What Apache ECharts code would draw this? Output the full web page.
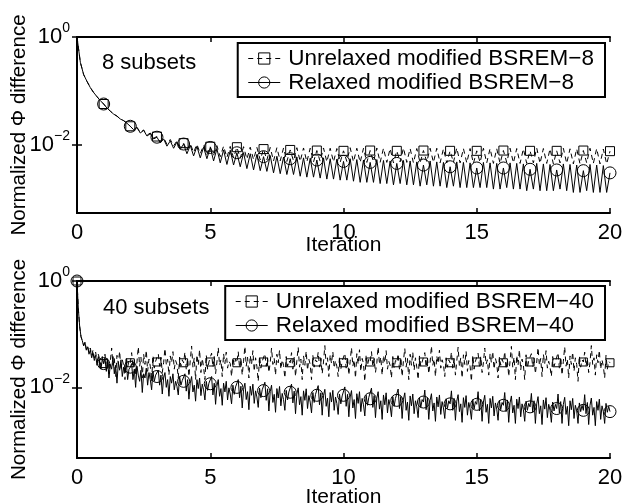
<!DOCTYPE html>
<html>
<head>
<meta charset="utf-8">
<script src="https://cdn.jsdelivr.net/npm/echarts@6/dist/echarts.min.js"></script>
<style>
html, body { margin: 0; padding: 0; background: #fff; }
#chart { width: 623px; height: 503px; }
</style>
</head>
<body>
<div id="chart"></div>
<script>
// samples per iteration: every sub-iteration for 8 subsets, every 2nd for 40 subsets
const steps8 = 8;
const steps40 = 20;
const xTicks = [0, 5, 10, 15, 20];
const yTicks = [0.01, 1];

const names8 = ['Unrelaxed modified BSREM\u22128', 'Relaxed modified BSREM\u22128'];
const names40 = ['Unrelaxed modified BSREM\u221240', 'Relaxed modified BSREM\u221240'];

// 8 subsets
const unrelaxed8 = [1.0,
  0.34, 0.2, 0.15, 0.115, 0.093, 0.078, 0.066, 0.057,
  0.048, 0.042, 0.037, 0.034, 0.030, 0.028, 0.025, 0.022,
  0.019, 0.021, 0.0168, 0.0188, 0.015, 0.0165, 0.0132, 0.0142,
  0.0115, 0.0135, 0.0102, 0.0125, 0.0095, 0.0118, 0.009, 0.0107,
  0.0078, 0.0105, 0.0072, 0.0102, 0.0068, 0.0098, 0.0066, 0.0092,
  0.0064, 0.0096, 0.0060, 0.0094, 0.0058, 0.0093, 0.0057, 0.0090,
  0.0056, 0.0092, 0.0054, 0.0090, 0.0053, 0.0089, 0.0052, 0.0083,
  0.0052, 0.0089, 0.0050, 0.0088, 0.0050, 0.0087, 0.0049, 0.0080,
  0.0050, 0.0088, 0.0049, 0.0087, 0.0048, 0.0086, 0.0048, 0.0078,
  0.0049, 0.0087, 0.0048, 0.0086, 0.0048, 0.0085, 0.0047, 0.0077,
  0.0049, 0.0088, 0.0048, 0.0086, 0.0047, 0.0086, 0.0047, 0.0078,
  0.0048, 0.0087, 0.0047, 0.0086, 0.0047, 0.0085, 0.0046, 0.0077,
  0.0048, 0.0087, 0.0047, 0.0085, 0.0046, 0.0085, 0.0046, 0.0078,
  0.0048, 0.0086, 0.0047, 0.0086, 0.0046, 0.0084, 0.0046, 0.0077,
  0.0047, 0.0087, 0.0046, 0.0085, 0.0046, 0.0085, 0.0045, 0.0077,
  0.0047, 0.0086, 0.0046, 0.0085, 0.0045, 0.0084, 0.0045, 0.0078,
  0.0047, 0.0086, 0.0046, 0.0085, 0.0045, 0.0084, 0.0045, 0.0077,
  0.0046, 0.0087, 0.0045, 0.0085, 0.0045, 0.0084, 0.0044, 0.0077,
  0.0046, 0.0086, 0.0045, 0.0084, 0.0044, 0.0084, 0.0044, 0.0078,
  0.0046, 0.0086, 0.0045, 0.0085, 0.0044, 0.0083, 0.0044, 0.0076
];
const relaxed8 = [1.0,
  0.34, 0.2, 0.15, 0.115, 0.093, 0.078, 0.066, 0.057,
  0.048, 0.042, 0.037, 0.034, 0.030, 0.028, 0.025, 0.022,
  0.019, 0.021, 0.0165, 0.0185, 0.0145, 0.016, 0.0128, 0.0138,
  0.0108, 0.0128, 0.0094, 0.0118, 0.0086, 0.0112, 0.0082, 0.0103,
  0.0068, 0.0097, 0.0062, 0.0093, 0.0057, 0.0090, 0.0055, 0.0089,
  0.0050, 0.0084, 0.0046, 0.0080, 0.0043, 0.0079, 0.0042, 0.0071,
  0.0039, 0.0071, 0.0036, 0.0068, 0.0034, 0.0066, 0.0033, 0.0060,
  0.0032, 0.0063, 0.0030, 0.0061, 0.0029, 0.0059, 0.0028, 0.0055,
  0.0028, 0.0059, 0.0026, 0.0057, 0.0025, 0.0056, 0.0025, 0.0052,
  0.0024, 0.0057, 0.0023, 0.0055, 0.0023, 0.0054, 0.0022, 0.0049,
  0.0022, 0.0055, 0.0021, 0.0053, 0.0020, 0.0052, 0.0020, 0.0047,
  0.0020, 0.0053, 0.0019, 0.0051, 0.0019, 0.0050, 0.0018, 0.0045,
  0.0019, 0.0051, 0.0018, 0.0050, 0.0018, 0.0048, 0.0017, 0.0042,
  0.0018, 0.0050, 0.0017, 0.0048, 0.0017, 0.0047, 0.0016, 0.0039,
  0.0017, 0.0048, 0.0016, 0.0047, 0.0016, 0.0046, 0.0016, 0.0037,
  0.0016, 0.0047, 0.0016, 0.0046, 0.0015, 0.0045, 0.0015, 0.0037,
  0.0016, 0.0046, 0.0015, 0.0045, 0.0015, 0.0044, 0.0014, 0.0035,
  0.0015, 0.0045, 0.0014, 0.0044, 0.0014, 0.0043, 0.0014, 0.0034,
  0.0015, 0.0044, 0.0014, 0.0043, 0.0013, 0.0042, 0.0013, 0.0033,
  0.0014, 0.0043, 0.0013, 0.0042, 0.0013, 0.0041, 0.0013, 0.0030
];

// 40 subsets
const unrelaxed40 = [1.0,
  0.3, 0.14, 0.09, 0.075, 0.062, 0.072, 0.052, 0.06, 0.045, 0.055, 0.04, 0.05, 0.036, 0.046, 0.03, 0.042, 0.034, 0.026, 0.038, 0.028,
  0.042, 0.024, 0.036, 0.018, 0.031, 0.055, 0.026, 0.035, 0.016, 0.04, 0.028, 0.048, 0.021, 0.033, 0.026, 0.014, 0.038, 0.024, 0.032, 0.029,
  0.045, 0.023, 0.034, 0.017, 0.03, 0.058, 0.025, 0.037, 0.015, 0.042, 0.027, 0.05, 0.02, 0.034, 0.025, 0.013, 0.04, 0.023, 0.031, 0.030,
  0.043, 0.025, 0.037, 0.019, 0.029, 0.054, 0.027, 0.034, 0.017, 0.039, 0.029, 0.047, 0.022, 0.032, 0.027, 0.015, 0.037, 0.025, 0.033, 0.029,
  0.046, 0.022, 0.035, 0.016, 0.032, 0.06, 0.024, 0.036, 0.014, 0.041, 0.026, 0.051, 0.019, 0.035, 0.024, 0.014, 0.041, 0.022, 0.03, 0.030,
  0.044, 0.024, 0.038, 0.018, 0.03, 0.056, 0.026, 0.033, 0.016, 0.043, 0.028, 0.046, 0.023, 0.031, 0.028, 0.016, 0.036, 0.026, 0.034, 0.029,
  0.047, 0.023, 0.034, 0.017, 0.031, 0.059, 0.025, 0.037, 0.015, 0.04, 0.027, 0.049, 0.02, 0.036, 0.025, 0.013, 0.039, 0.023, 0.031, 0.030,
  0.043, 0.025, 0.036, 0.019, 0.029, 0.055, 0.027, 0.035, 0.017, 0.042, 0.029, 0.05, 0.022, 0.033, 0.026, 0.015, 0.038, 0.025, 0.032, 0.029,
  0.045, 0.022, 0.037, 0.016, 0.032, 0.057, 0.024, 0.034, 0.014, 0.039, 0.026, 0.048, 0.021, 0.034, 0.027, 0.014, 0.04, 0.024, 0.033, 0.030,
  0.046, 0.024, 0.035, 0.018, 0.03, 0.061, 0.026, 0.036, 0.016, 0.041, 0.028, 0.047, 0.023, 0.032, 0.025, 0.016, 0.037, 0.022, 0.031, 0.029,
  0.044, 0.023, 0.038, 0.017, 0.031, 0.056, 0.025, 0.033, 0.015, 0.043, 0.027, 0.051, 0.02, 0.035, 0.028, 0.013, 0.041, 0.026, 0.034, 0.030,
  0.047, 0.025, 0.034, 0.019, 0.029, 0.058, 0.027, 0.037, 0.017, 0.04, 0.029, 0.049, 0.022, 0.031, 0.026, 0.015, 0.038, 0.023, 0.032, 0.029,
  0.043, 0.022, 0.036, 0.016, 0.032, 0.054, 0.024, 0.035, 0.014, 0.042, 0.026, 0.046, 0.021, 0.036, 0.024, 0.014, 0.039, 0.025, 0.03, 0.030,
  0.045, 0.024, 0.037, 0.018, 0.03, 0.06, 0.026, 0.034, 0.016, 0.039, 0.028, 0.05, 0.023, 0.033, 0.027, 0.016, 0.036, 0.024, 0.033, 0.029,
  0.046, 0.023, 0.035, 0.017, 0.031, 0.057, 0.025, 0.036, 0.015, 0.041, 0.027, 0.048, 0.02, 0.032, 0.025, 0.013, 0.04, 0.022, 0.031, 0.030,
  0.044, 0.025, 0.038, 0.019, 0.029, 0.055, 0.027, 0.033, 0.017, 0.043, 0.029, 0.047, 0.022, 0.035, 0.028, 0.015, 0.037, 0.026, 0.034, 0.029,
  0.047, 0.022, 0.034, 0.016, 0.032, 0.059, 0.024, 0.037, 0.014, 0.04, 0.026, 0.051, 0.021, 0.034, 0.026, 0.014, 0.041, 0.023, 0.032, 0.030,
  0.043, 0.024, 0.036, 0.018, 0.03, 0.056, 0.026, 0.035, 0.016, 0.042, 0.028, 0.049, 0.023, 0.031, 0.024, 0.016, 0.038, 0.025, 0.03, 0.029,
  0.045, 0.023, 0.037, 0.017, 0.031, 0.058, 0.025, 0.034, 0.015, 0.039, 0.027, 0.046, 0.02, 0.036, 0.027, 0.013, 0.039, 0.024, 0.033, 0.030,
  0.046, 0.025, 0.035, 0.019, 0.029, 0.061, 0.027, 0.036, 0.017, 0.041, 0.029, 0.05, 0.022, 0.033, 0.025, 0.015, 0.04, 0.022, 0.031, 0.029
];
const relaxed40 = [1.0,
  0.3, 0.14, 0.09, 0.075, 0.06, 0.07, 0.05, 0.058, 0.042, 0.05, 0.036, 0.045, 0.032, 0.04, 0.026, 0.038, 0.03, 0.022, 0.034, 0.028,
  0.036, 0.02, 0.031, 0.015, 0.027, 0.022, 0.038, 0.018, 0.026, 0.012, 0.029, 0.021, 0.033, 0.016, 0.024, 0.019, 0.03, 0.014, 0.022, 0.024,
  0.028, 0.014, 0.022, 0.01, 0.025, 0.017, 0.013, 0.021, 0.008, 0.018, 0.015, 0.023, 0.011, 0.019, 0.014, 0.009, 0.02, 0.013, 0.017, 0.016,
  0.021, 0.011, 0.017, 0.0075, 0.015, 0.019, 0.01, 0.014, 0.0068, 0.016, 0.012, 0.018, 0.009, 0.013, 0.0105, 0.0072, 0.016, 0.011, 0.0135, 0.013,
  0.018, 0.0085, 0.014, 0.006, 0.012, 0.016, 0.0082, 0.011, 0.0055, 0.014, 0.0095, 0.015, 0.007, 0.0115, 0.009, 0.0058, 0.013, 0.0088, 0.012, 0.0117,
  0.016, 0.0072, 0.012, 0.0048, 0.0105, 0.014, 0.0068, 0.0095, 0.0046, 0.012, 0.0082, 0.013, 0.0058, 0.0098, 0.0075, 0.0049, 0.011, 0.0074, 0.0102, 0.010,
  0.014, 0.0064, 0.0105, 0.0041, 0.0092, 0.012, 0.0059, 0.0083, 0.0038, 0.0105, 0.0071, 0.0115, 0.005, 0.0086, 0.0066, 0.0042, 0.0097, 0.0064, 0.009, 0.0087,
  0.0125, 0.0057, 0.0094, 0.0036, 0.0083, 0.011, 0.0052, 0.0074, 0.0034, 0.0095, 0.0063, 0.0104, 0.0045, 0.0077, 0.0059, 0.0037, 0.0088, 0.0058, 0.0082, 0.0081,
  0.0115, 0.0051, 0.0085, 0.0032, 0.0075, 0.0098, 0.0047, 0.0067, 0.003, 0.0086, 0.0057, 0.0094, 0.004, 0.007, 0.0053, 0.0033, 0.008, 0.0052, 0.0074, 0.0071,
  0.0108, 0.0047, 0.0079, 0.003, 0.007, 0.0092, 0.0044, 0.0063, 0.0028, 0.008, 0.0053, 0.0088, 0.0037, 0.0066, 0.005, 0.0031, 0.0075, 0.0049, 0.0069, 0.0071,
  0.0102, 0.0044, 0.0074, 0.0028, 0.0066, 0.0087, 0.0041, 0.0059, 0.0026, 0.0076, 0.005, 0.0083, 0.0035, 0.0062, 0.0047, 0.0029, 0.0071, 0.0046, 0.0065, 0.0061,
  0.0097, 0.0042, 0.007, 0.0027, 0.0063, 0.0083, 0.0039, 0.0056, 0.0025, 0.0072, 0.0047, 0.0079, 0.0033, 0.0059, 0.0045, 0.0028, 0.0067, 0.0044, 0.0062, 0.0057,
  0.0093, 0.004, 0.0067, 0.0026, 0.006, 0.0079, 0.0037, 0.0053, 0.0024, 0.0069, 0.0045, 0.0075, 0.0032, 0.0056, 0.0043, 0.0027, 0.0064, 0.0042, 0.0059, 0.0053,
  0.0089, 0.0038, 0.0064, 0.0025, 0.0057, 0.0076, 0.0036, 0.0051, 0.0023, 0.0066, 0.0043, 0.0072, 0.0031, 0.0054, 0.0041, 0.0026, 0.0061, 0.004, 0.0056, 0.0049,
  0.0086, 0.0037, 0.0062, 0.0024, 0.0055, 0.0073, 0.0035, 0.0049, 0.0022, 0.0064, 0.0042, 0.007, 0.003, 0.0052, 0.004, 0.0025, 0.0059, 0.0039, 0.0054, 0.0048,
  0.0083, 0.0036, 0.006, 0.0023, 0.0053, 0.0071, 0.0034, 0.0048, 0.0021, 0.0062, 0.0041, 0.0068, 0.0029, 0.0051, 0.0039, 0.0024, 0.0057, 0.0038, 0.0052, 0.0046,
  0.008, 0.0035, 0.0058, 0.0022, 0.0051, 0.0069, 0.0033, 0.0046, 0.0021, 0.006, 0.004, 0.0066, 0.0028, 0.0049, 0.0038, 0.0023, 0.0055, 0.0037, 0.005, 0.0043,
  0.0077, 0.0034, 0.0056, 0.0021, 0.0049, 0.0067, 0.0032, 0.0045, 0.002, 0.0058, 0.0039, 0.0064, 0.0027, 0.0048, 0.0037, 0.0022, 0.0053, 0.0036, 0.0048, 0.004,
  0.0075, 0.0033, 0.0054, 0.0021, 0.0048, 0.0065, 0.0031, 0.0044, 0.0019, 0.0056, 0.0038, 0.0062, 0.0026, 0.0046, 0.0036, 0.0021, 0.0051, 0.0035, 0.0046, 0.0037,
  0.0073, 0.0032, 0.0052, 0.002, 0.0046, 0.0063, 0.003, 0.0042, 0.0019, 0.0054, 0.0037, 0.006, 0.0025, 0.0045, 0.0035, 0.0021, 0.005, 0.0034, 0.0044, 0.0035
];

const font = "'Liberation Sans', Arial, Helvetica, sans-serif";
const chart = echarts.init(document.getElementById('chart'));

function xAxisFor(grid, top, nameGap) {
  const base = {
    type: 'value', gridIndex: grid, min: 0, max: 20, interval: 5,
    axisLine: { lineStyle: { color: '#000', width: 2 } },
    axisTick: { inside: true, length: 5, lineStyle: { color: '#000', width: 1.5 } },
    splitLine: { show: false }
  };
  if (top) {
    return Object.assign(base, { position: 'top', axisLabel: { show: false } });
  }
  return Object.assign(base, {
    position: 'bottom',
    name: 'Iteration', nameLocation: 'middle', nameGap: nameGap, nameMoveOverlap: false,
    nameTextStyle: { fontSize: 21, color: '#000', fontFamily: font },
    axisLabel: { fontSize: 22, color: '#000', fontFamily: font, margin: 9,
      customValues: xTicks }
  });
}

function yAxisFor(grid, right, min) {
  const base = {
    type: 'log', logBase: 10, gridIndex: grid, min: min, max: 1,
    axisLine: { lineStyle: { color: '#000', width: 2 } },
    axisTick: { inside: true, length: 5, customValues: yTicks,
      lineStyle: { color: '#000', width: 1.5 } },
    splitLine: { show: false },
    minorTick: { show: false }
  };
  if (right) {
    return Object.assign(base, { position: 'right', axisLabel: { show: false, customValues: yTicks } });
  }
  return Object.assign(base, {
    position: 'left',
    name: 'Normalized \u03a6 difference', nameLocation: 'middle', nameGap: 47, nameMoveOverlap: false,
    nameTextStyle: { fontSize: 20.5, color: '#000', fontFamily: font },
    axisLabel: {
      customValues: yTicks, margin: 7,
      formatter: v => '{b|10}{s|' + String(Math.round(Math.log10(v))).replace('-', '\u2212') + '}',
      rich: {
        b: { fontSize: 22, color: '#000', fontFamily: font },
        s: { fontSize: 14, color: '#000', fontFamily: font, padding: [0, 0, 17, 0] }
      }
    }
  });
}

function lineSeries(name, values, steps, xi, yi, dashed, symbol, size, markZero) {
  return {
    name: name, type: 'line', xAxisIndex: xi, yAxisIndex: yi,
    data: values.map((v, i) => [i / steps, v]),
    symbol: symbol,
    symbolSize: (val, p) => (p.dataIndex % steps === 0 && (markZero || p.dataIndex > 0)) ? size : 0,
    showSymbol: true, showAllSymbol: true,
    itemStyle: { color: 'rgba(0,0,0,0)', borderColor: '#000', borderWidth: 1 },
    lineStyle: { color: '#000', width: 1, type: dashed ? [5, 4] : 'solid' },
    emphasis: { disabled: true },
    animation: false
  };
}

function legendFor(names, top) {
  return {
    data: names, orient: 'vertical', right: 18, top: top,
    itemWidth: 32, itemHeight: 14, itemGap: 1,
    padding: [4, 11, 3, 10],
    borderColor: '#000', borderWidth: 2, backgroundColor: '#fff',
    selectedMode: false,
    textStyle: { fontSize: 22.5, color: '#000', fontFamily: font, padding: [0, 0, 0, 3] },
    itemStyle: { color: 'rgba(0,0,0,0)', borderColor: '#000', borderWidth: 1 },
    lineStyle: { color: '#000', width: 1 }
  };
}

chart.setOption({
  animation: false,
  grid: [
    { left: 77, right: 13, top: 37, height: 176, outerBoundsMode: 'none' },
    { left: 77, right: 13, top: 281, height: 177, outerBoundsMode: 'none' }
  ],
  xAxis: [xAxisFor(0, false, 22), xAxisFor(0, true), xAxisFor(1, false, 29), xAxisFor(1, true)],
  yAxis: [yAxisFor(0, false, 0.00054), yAxisFor(0, true, 0.00054),
          yAxisFor(1, false, 0.00047), yAxisFor(1, true, 0.00047)],
  legend: [legendFor(names8, 43), legendFor(names40, 286)],
  graphic: [
    { type: 'text', left: 102, top: 52, style: { text: '8 subsets', fontSize: 22, fill: '#000', fontFamily: font } },
    { type: 'text', left: 103, top: 297, style: { text: '40 subsets', fontSize: 22, fill: '#000', fontFamily: font } }
  ],
  series: [
    lineSeries(names8[0], unrelaxed8, steps8, 0, 0, true, 'rect', 9, false),
    lineSeries(names8[1], relaxed8, steps8, 0, 0, false, 'circle', 12, false),
    lineSeries(names40[0], unrelaxed40, steps40, 2, 2, true, 'rect', 8, true),
    lineSeries(names40[1], relaxed40, steps40, 2, 2, false, 'circle', 12, true)
  ]
});
</script>
</body>
</html>
